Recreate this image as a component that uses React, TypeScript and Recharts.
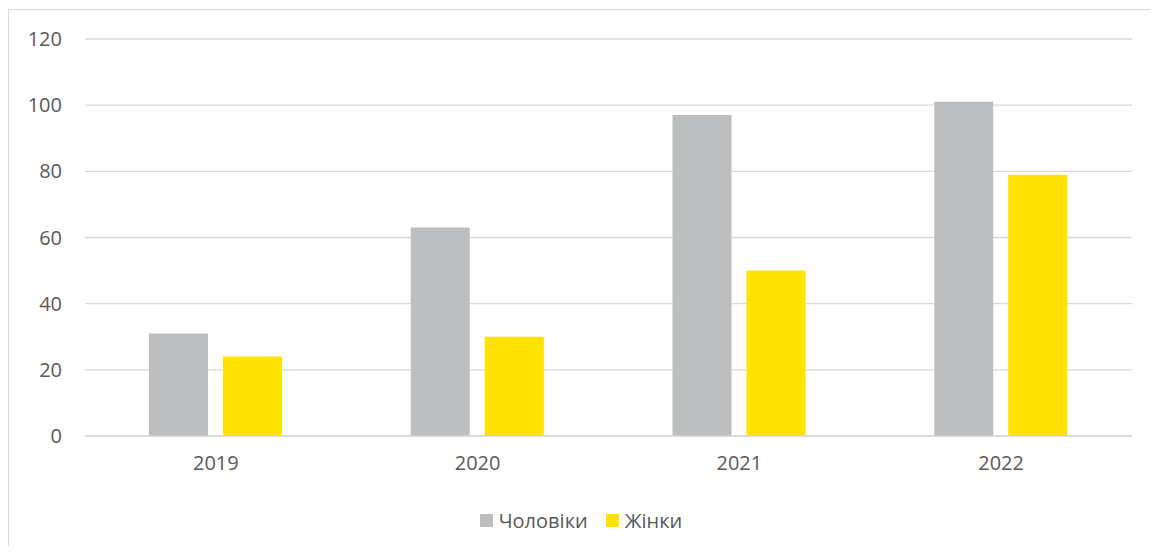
import { BarChart, Bar, XAxis, YAxis, CartesianGrid, Legend } from 'recharts';

const years = ['2019', '2020', '2021', '2022'];
const men = [31, 63, 97, 101];
const women = [24, 30, 50, 79];
const yTicks = [0, 20, 40, 60, 80, 100, 120];
const seriesOrder = ['men', 'women'];

const data = years.map((year, i) => ({ year, men: men[i], women: women[i] }));

const FONT = '"Open Sans", sans-serif';
const TEXT = '#595959';

function LegendContent(props: any) {
  const items = [...(props.payload || [])].sort(
    (a: any, b: any) => seriesOrder.indexOf(a.dataKey) - seriesOrder.indexOf(b.dataKey)
  );
  return (
    <div
      style={{
        display: 'flex',
        justifyContent: 'center',
        alignItems: 'center',
        height: 30,
        gap: 18,
        paddingLeft: 21,
        fontFamily: FONT,
      }}
    >
      {items.map((entry: any) => (
        <span key={entry.value} style={{ display: 'flex', alignItems: 'center' }}>
          <span style={{ width: 13, height: 13, background: entry.color, marginRight: 6 }} />
          <span style={{ color: TEXT, fontSize: 20 }}>{entry.value}</span>
        </span>
      ))}
    </div>
  );
}

export default function App() {
  return (
    <div style={{ paddingTop: 1 }}>
      <div style={{ borderLeft: '1px solid #d9d9d9', borderTop: '1px solid #d9d9d9', fontFamily: FONT }}>
        <BarChart
          width={1149}
          height={536}
          data={data}
          margin={{ top: 29, right: 26, left: 0, bottom: 11 }}
          barGap={15}
          barSize={59}
        >
          <CartesianGrid vertical={false} stroke="#d9d9d9" strokeWidth={1.3} />
          <XAxis
            dataKey="year"
            height={69}
            tickLine={false}
            tickSize={0}
            tickMargin={20}
            axisLine={{ stroke: '#d9d9d9', strokeWidth: 1.5 }}
            tick={{ fill: TEXT, fontSize: 20, fontFamily: FONT }}
          />
          <YAxis
            width={76}
            domain={[0, 120]}
            ticks={yTicks}
            axisLine={false}
            tickLine={false}
            tickSize={0}
            tickMargin={23}
            tick={{ fill: TEXT, fontSize: 20, fontFamily: FONT }}
          />
          <Legend verticalAlign="bottom" height={30} content={LegendContent} />
          <Bar dataKey="men" name="Чоловіки" fill="#bdbec0" isAnimationActive={false} />
          <Bar dataKey="women" name="Жінки" fill="#ffe200" isAnimationActive={false} />
        </BarChart>
      </div>
    </div>
  );
}
